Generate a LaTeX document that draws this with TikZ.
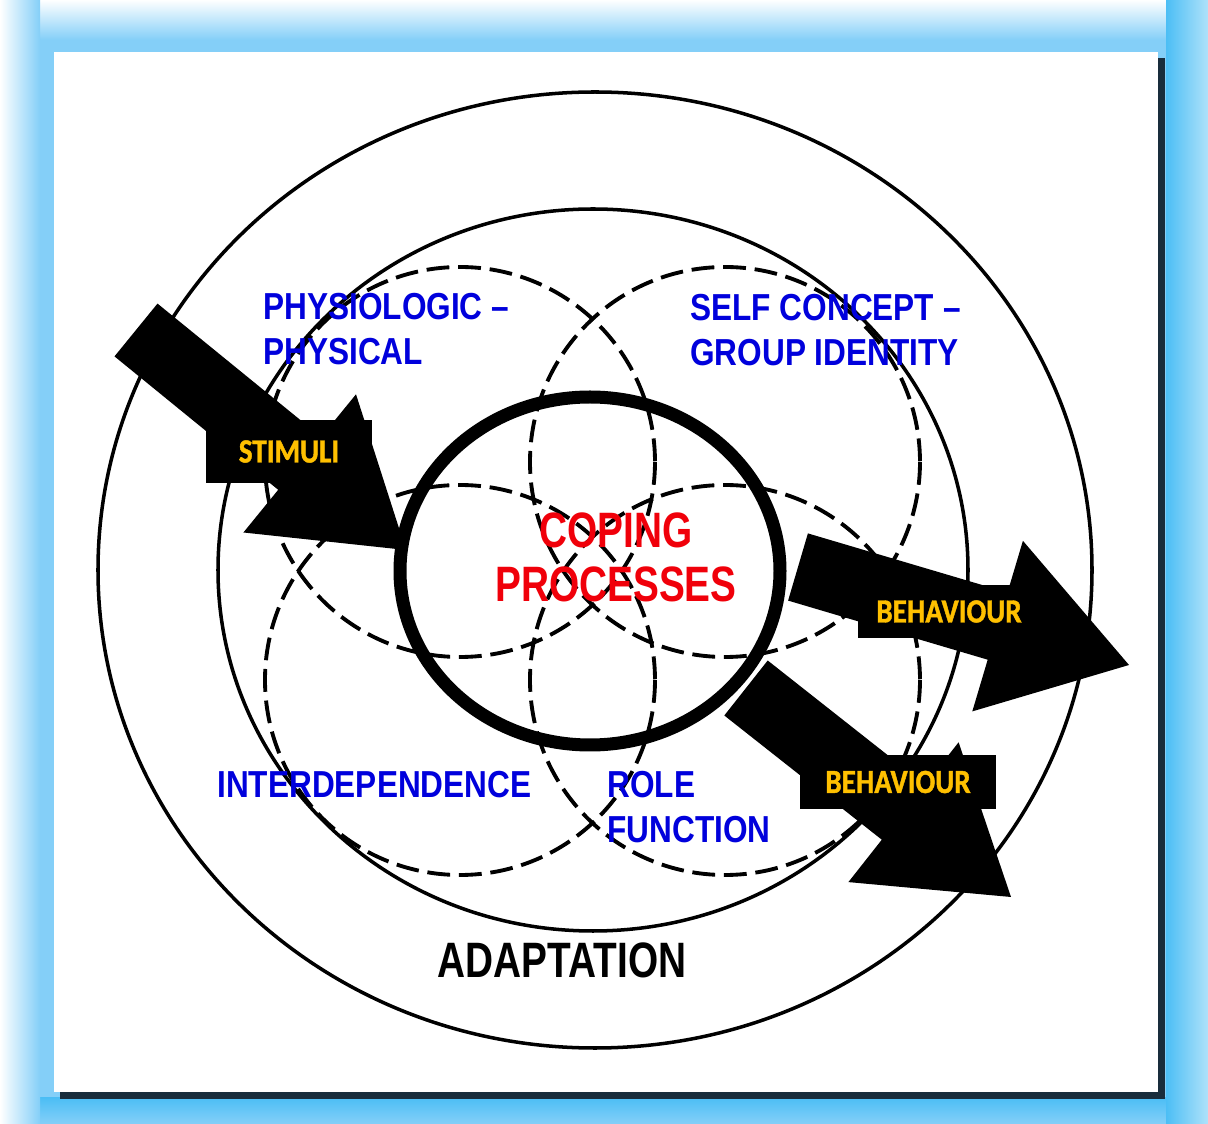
\documentclass[tikz,border=0pt]{standalone}
\usepackage{fontspec}
\newfontfamily\lblfont[FakeStretch=0.84]{Liberation Sans}
\newfontfamily\copefont[FakeStretch=0.78]{Liberation Sans}
\newfontfamily\tagfont[FakeStretch=0.86, FakeBold=1.2]{Carlito}

\definecolor{lblblue}{RGB}{0,0,220}
\definecolor{copered}{RGB}{240,0,10}
\definecolor{taggold}{RGB}{255,192,0}
\definecolor{skyA}{RGB}{132,207,248}
\definecolor{skyB}{RGB}{76,190,245}
\definecolor{skyC}{RGB}{175,226,250}
\definecolor{panelshadow}{RGB}{25,45,60}

\tikzset{
  ring/.style={black, line width=2pt},
  petal/.style={black, line width=2.2pt, dash pattern=on 13pt off 5pt},
  blockarrow/.style={fill=black},
  modelabel/.style={text=lblblue, inner sep=0pt, align=left, anchor=base west,
    font=\lblfont\bfseries\fontsize{21.4}{25.7}\selectfont},
  tagbox/.style={fill=black, text=taggold, inner sep=0pt,
    font=\tagfont\bfseries\fontsize{19.3}{22}\selectfont},
}

\begin{document}
\begin{tikzpicture}[x=0.02cm, y=-0.02cm]
	\useasboundingbox (0,0) rectangle (1208,1124);

	% frame (y upwards here)
	\begin{scope}[y=0.02cm, yshift=-22.48cm]
		\fill[skyA] (0,0) rectangle (1208,1124);
		\shade[top color=skyB, bottom color=skyA] (0,0) rectangle (1208,26);
		\shade[top color=white, bottom color=skyA] (0,1084) rectangle (1208,1124);
		\shade[left color=white, right color=skyA] (0,0) rectangle (40,1124);
		\shade[left color=skyB, right color=skyC] (1166,0) rectangle (1208,1124);
	\end{scope}
	\fill[panelshadow] (60,58) rectangle (1165,1099);
	\fill[white] (54,52) rectangle (1158,1092);

	% rings
	\draw[ring] (595,570) ellipse [x radius=497, y radius=478];
	\draw[ring] (593,570) ellipse [x radius=375, y radius=361];

	% adaptive modes
	\draw[petal] (460,462) circle [radius=195];
	\draw[petal] (725,462) circle [radius=195];
	\draw[petal] (460,680) circle [radius=195];
	\draw[petal] (725,680) circle [radius=195];

	% coping
	\draw[black, line width=7.4pt] (590,571) ellipse [x radius=190, y radius=174];

	\node[modelabel] (physio) at (263,365) {PHYSIOLOGIC –\\PHYSICAL};
	\node[modelabel] (self) at (690,366) {SELF CONCEPT –\\GROUP IDENTITY};
	\node[modelabel] (inter) at (217,798) {INTERDEPENDENCE};
	\node[modelabel] (role) at (607,843) {ROLE\\FUNCTION};

	\node[text=copered, inner sep=0pt, align=center, anchor=base,
		font=\copefont\bfseries\fontsize{28.3}{31.2}\selectfont] (coping) at (616,602) {COPING\\PROCESSES};
	\node[inner sep=0pt, anchor=base,
		font=\copefont\bfseries\fontsize{28.3}{31.2}\selectfont] (adapt) at (562,978) {ADAPTATION};

	% in and out
	\fill[blockarrow] (157.5,303.6) -- (321.2,437.0) -- (356.0,394.3) -- (406,550)
		-- (243.4,532.5) -- (278.2,489.8) -- (114.5,356.4) -- cycle;
	\fill[blockarrow] (807.9,533.4) -- (1007.5,592.5) -- (1022.9,540.8) -- (1129,665)
		-- (972.3,711.4) -- (987.7,659.7) -- (788.1,600.6) -- cycle;
	\fill[blockarrow] (767.7,660.5) -- (925.2,784.7) -- (958.6,742.3) -- (1011,897)
		-- (848.4,882.1) -- (881.8,839.7) -- (724.3,715.5) -- cycle;

	\node[tagbox, minimum width=3.32cm, minimum height=1.26cm] (stimuli) at (289,451.5) {STIMULI};
	\node[tagbox, minimum width=3.64cm, minimum height=1.06cm] (behav1) at (949,611.5) {BEHAVIOUR};
	\node[tagbox, minimum width=3.92cm, minimum height=1.08cm] (behav2) at (898,782) {BEHAVIOUR};
\end{tikzpicture}
\end{document}
